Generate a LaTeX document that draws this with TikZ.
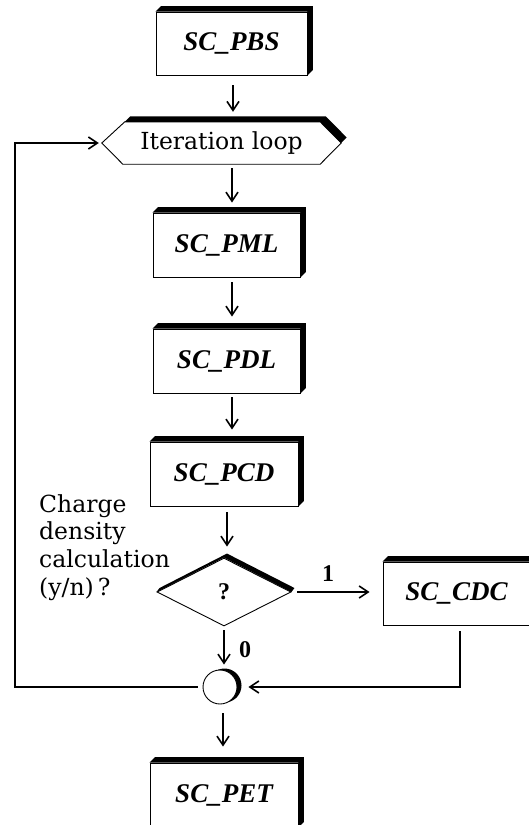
\documentclass[tikz,border=0pt]{standalone}
\usepackage{fontspec}
\setmainfont{DejaVu Serif}
\newfontfamily\boxfont{Liberation Serif}
\usetikzlibrary{arrows.meta,shapes.geometric,calc}
\begin{document}
\begin{tikzpicture}[x=1pt,y=-1pt,
  box3d/.style={draw, line width=0.9pt, minimum width=148pt, minimum height=64pt, inner sep=0pt,
    font=\boxfont\bfseries\itshape\fontsize{27}{30}\selectfont},
  conn/.style={line width=1.6pt, -{Straight Barb[length=9pt,width=12pt]}},
  lbl/.style={font=\boxfont\bfseries\fontsize{24}{26}\selectfont, inner sep=0pt},
  thin/.style={line width=0.9pt}]
\useasboundingbox (0,0) rectangle (529,825);
\clip (0,0) rectangle (529,825);
% boxes
\node[box3d, minimum width=151pt, minimum height=63pt] (pbs) at (231.5,43.5) {SC\_PBS};
\node[box3d, minimum width=147pt] (pml) at (226.5,245) {SC\_PML};
\node[box3d, minimum width=147pt] (pdl) at (226.5,361) {SC\_PDL};
\node[box3d] (pcd) at (224,474) {SC\_PCD};
\node[box3d] (pet) at (224,795) {SC\_PET};
\node[box3d, minimum width=147pt, minimum height=63pt] (cdc) at (456.5,593.5) {SC\_CDC};
\foreach \n in {pbs,pml,pdl,pcd,pet,cdc}
  \fill (\n.north west) -- ++(5.5pt,5.5pt) -- ($(\n.north east)+(5.5pt,5.5pt)$) -- ($(\n.south east)+(5.5pt,5.5pt)$) -- (\n.south east) -- (\n.north east) -- cycle;
% iteration loop hexagon
\node[minimum width=239pt, minimum height=42pt, inner sep=0pt, font=\fontsize{23.5}{26}\selectfont] (loop) at (221.5,143) {Iteration loop};
\draw[thin] (loop.west) -- ($(loop.north west)+(23pt,0)$) -- ($(loop.north east)+(-21pt,0)$) -- (loop.east)
  -- ($(loop.south east)+(-21pt,0)$) -- ($(loop.south west)+(21pt,0)$) -- cycle;
\fill ($(loop.north west)+(23pt,0)$) -- ++(5.5pt,5.5pt) -- ($(loop.north east)+(-15.5pt,5.5pt)$) -- ($(loop.east)+(5.5pt,5.5pt)$)
  -- (loop.east) -- ($(loop.north east)+(-21pt,0)$) -- cycle;
% decision
\node[diamond, draw, thin, minimum width=134pt, minimum height=68pt, inner sep=0pt, lbl] (q) at (224,592) {?};
\fill (q.west) -- (q.north) -- (q.east) -- ($(q.east)+(3pt,4pt)$) -- ($(q.north)+(3pt,4pt)$) -- ($(q.west)+(3pt,4pt)$) -- cycle;
% junction
\coordinate (jc) at (220,687);
\fill ($(jc)+(4.5pt,1.5pt)$) circle[radius=17pt];
\node[circle, draw, thin, fill=white, minimum size=34pt, inner sep=0pt] (j) at (jc) {};
% side text
\node[anchor=north west, align=left, inner sep=0pt, font=\fontsize{23.5}{27.7}\selectfont] (cd) at (39,494)
  {Charge\\density\\calculation\\(y/n)\,?};
% labels
\node[lbl] (l1) at (328,574) {1};
\node[lbl] (l0) at (245,650) {0};
% connectors
\draw[conn, shorten <=10pt, shorten >=10pt] ($(pbs.south)+(1.5pt,0)$) -- ($(pbs.south |- loop.north)+(1.5pt,0)$);
\draw[conn, shorten <=4pt, shorten >=10pt] ($(pml.north |- loop.south)+(5.5pt,0)$) -- ($(pml.north)+(5.5pt,0)$);
\draw[conn, shorten <=5pt, shorten >=12pt] ($(pml.south)+(5.5pt,0)$) -- ($(pml.south |- pdl.north)+(5.5pt,0)$);
\draw[conn, shorten <=4pt, shorten >=12pt] ($(pdl.south)+(5.5pt,0)$) -- ($(pdl.south |- pcd.north)+(5.5pt,0)$);
\draw[conn, shorten <=6pt, shorten >=11pt] ($(pcd.south)+(3pt,0)$) -- ($(pcd.south |- q.north)+(3pt,0)$);
\draw[conn, shorten <=4pt, shorten >=5pt] (q.south) -- (q.south |- j.north);
\draw[conn, shorten <=9pt, shorten >=16pt] ($(j.south)+(3pt,0)$) -- ($(j.south |- pet.north)+(3pt,0)$);
\draw[conn, shorten <=6pt, shorten >=13pt] (q.east) -- (q.east -| cdc.west);
\draw[conn, shorten <=6pt, shorten >=11pt] ($(cdc.south)+(3.5pt,0)$) |- (j.east);
\coordinate (lp) at (15,687);
\draw[conn, shorten <=5pt, shorten >=3pt] (j.west) -- (lp) |- (loop.west);
\end{tikzpicture}
\end{document}
